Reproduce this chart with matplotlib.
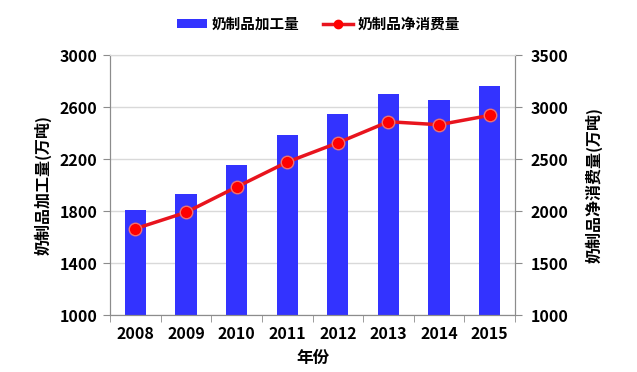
import matplotlib
matplotlib.use("Agg")
import matplotlib.pyplot as plt
from matplotlib.lines import Line2D
import numpy as np

plt.rcParams['font.family'] = ['Noto Sans CJK SC', 'DejaVu Sans']

years = ['2008', '2009', '2010', '2011', '2012', '2013', '2014', '2015']
processing = [1808, 1933, 2156, 2388, 2546, 2700, 2651, 2762]
consumption = [1830, 1987, 2231, 2471, 2656, 2859, 2830, 2920]
left_ticks = [1000, 1400, 1800, 2200, 2600, 3000]
right_ticks = [1000, 1500, 2000, 2500, 3000, 3500]

fig = plt.figure(figsize=(6.37, 3.72), dpi=100)
ax = fig.add_axes([0.1727, 0.1532, 0.6358, 0.6988])
x = np.arange(len(years))

gridc = '#d9d9d9'
spinec = '#8c8c8c'
tfs = 11.5
bars = ax.bar(x, processing, width=0.42, color='#3333ff', zorder=2, label='奶制品加工量')
ax.set_ylim(1000, 3000)
ax.set_xlim(-0.5, len(years) - 0.5)
ax.set_yticks(left_ticks)
ax.set_yticklabels([str(t) for t in left_ticks], fontsize=tfs, fontweight='bold')
ax.yaxis.grid(True, color=gridc, linewidth=1, zorder=0)
ax.set_axisbelow(True)
ax.set_xticks(x)
ax.set_xticklabels(years, fontsize=tfs, fontweight='bold')
ax.tick_params(axis='x', length=0, pad=8)
ax.set_xticks(np.arange(-0.5, len(years), 1), minor=True)
ax.tick_params(axis='x', which='minor', length=5, color=spinec)
ax.tick_params(axis='y', length=5, color=spinec, pad=4)
for s in ['left', 'right', 'bottom']:
    ax.spines[s].set_color(spinec)
ax.spines['top'].set_color(gridc)
ax.set_ylabel('奶制品加工量(万吨)', fontsize=11.5, fontweight='bold', labelpad=6)
ax.set_xlabel('年份', fontsize=12, fontweight='bold', labelpad=5)

ax2 = ax.twinx()
line, = ax2.plot(x, consumption, color='#e8141e', linewidth=2.5, marker='o',
                 markersize=9, markerfacecolor='#ff0000', markeredgecolor='#f07070',
                 markeredgewidth=1, zorder=3, label='奶制品净消费量')
ax2.set_ylim(1000, 3500)
ax2.set_yticks(right_ticks)
ax2.set_yticklabels([str(t) for t in right_ticks], fontsize=tfs, fontweight='bold')
ax2.tick_params(axis='y', length=5, color=spinec, pad=6)
for s in ['left', 'right', 'bottom']:
    ax2.spines[s].set_color(spinec)
ax2.spines['top'].set_color(gridc)
ax2.set_ylabel('奶制品净消费量(万吨)', fontsize=11.5, fontweight='bold', labelpad=12)

proxy_line = Line2D([], [], color='#e8141e', linewidth=2.5, marker='o', markersize=6,
                    markerfacecolor='#ff0000', markeredgecolor='#ff0000')
fig.legend(handles=[bars, proxy_line], labels=['奶制品加工量', '奶制品净消费量'],
           loc='center', bbox_to_anchor=(0.5, 0.937), ncol=2,
           frameon=False, prop={'size': 10.5, 'weight': 'bold'}, handlelength=2.1,
           handleheight=0.6, columnspacing=1.6, handletextpad=0.3)

fig.savefig('out.png', dpi=100)
